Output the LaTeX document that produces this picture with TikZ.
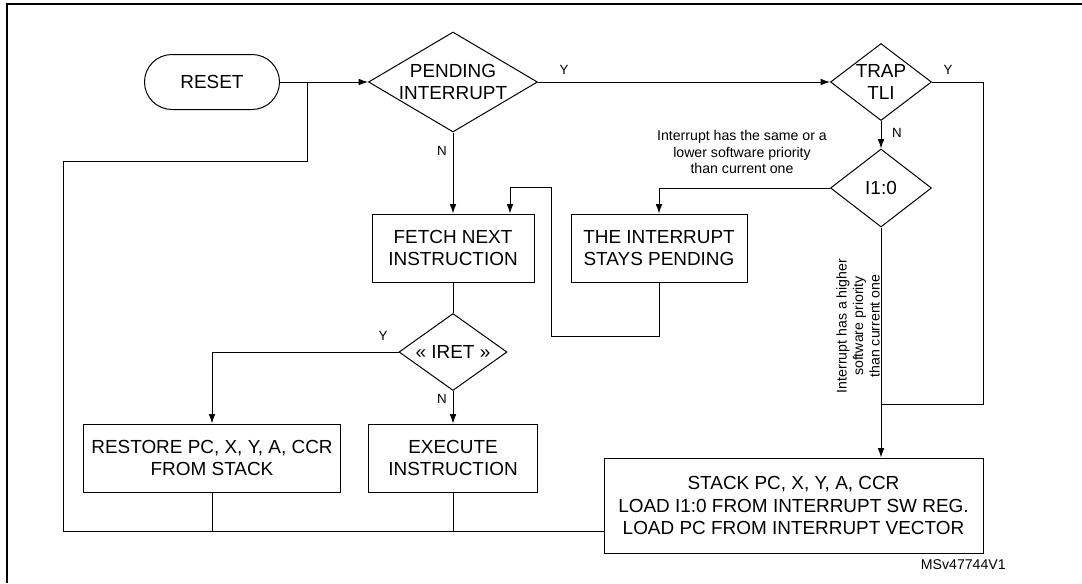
\documentclass[tikz,border=0pt]{standalone}
\usepackage{fontspec}
\setmainfont{Liberation Sans}
\usetikzlibrary{shapes.geometric, arrows.meta}
\tikzset{
  box/.style={draw, line width=0.75pt, inner sep=0pt, align=center, font=\fontsize{14.2}{16.8}\selectfont},
  decision/.style={box, diamond, inner sep=-25pt},
  tag/.style={font=\fontsize{10}{12}\selectfont, inner sep=0pt},
  note/.style={align=center, font=\fontsize{10.6}{12.4}\selectfont, inner sep=0pt},
  line/.style={line width=0.75pt},
}

\begin{document}
\begin{tikzpicture}[x=0.75pt, y=-0.75pt, >={Latex[length=7pt,width=5pt]}]
  \useasboundingbox (0,0) rectangle (1082,583);
  % frame
  \draw[line width=1.5pt] (7,583) -- (7,4) -- (1082,4);
  % blocks
  \node[box, rounded corners=20.6pt, minimum width=101.25pt, minimum height=41.25pt] (reset) at (212,82) {RESET};
  \node[decision, minimum width=126.75pt, minimum height=75pt] (pend) at (453,82) {PENDING\\INTERRUPT};
  \node[decision, minimum width=75.75pt, minimum height=57.75pt] (trap) at (881,82) {TRAP\\TLI};
  \node[decision, minimum width=75.75pt, minimum height=58.5pt] (ione) at (881,188) {I1:0};
  \node[box, minimum width=121.5pt, minimum height=51pt] (fetch) at (453,248) {FETCH NEXT\\INSTRUCTION};
  \node[box, minimum width=132pt, minimum height=51pt] (stays) at (659,248) {THE INTERRUPT\\STAYS PENDING};
  \node[decision, minimum width=81pt, minimum height=57.75pt] (iret) at (453,352) {« IRET »};
  \node[box, minimum width=192.75pt, minimum height=51pt] (restore) at (212,458) {RESTORE PC, X, Y, A, CCR\\FROM STACK};
  \node[box, minimum width=126.75pt, minimum height=51pt] (exec) at (453,458) {EXECUTE\\INSTRUCTION};
  \node[box, minimum width=284.25pt, minimum height=71.25pt] (stack) at (793.5,505.5) {STACK PC, X, Y, A, CCR\\LOAD I1:0 FROM INTERRUPT SW REG.\\LOAD PC FROM INTERRUPT VECTOR};
  % helper points
  \coordinate (join) at (307,82);
  \coordinate (loopl) at (63,161);
  \coordinate (back) at (604,531);
  \coordinate (tj) at (983,404);
  \coordinate (rb) at (551,336);
  \coordinate (rt) at (510,187);
  % connectors
  \draw[line, ->] (reset.east) -- (pend.west);
  \draw[line] (back) -| (loopl) -| (join);
  \draw[line] (restore.south) -- (restore.south |- back);
  \draw[line] (exec.south) -- (exec.south |- back);
  \draw[line, ->] (pend.east) -- (trap.west);
  \draw[line] (trap.east) -| (tj) -- (tj -| ione);
  \draw[line, ->] (trap.south) -- (ione.north);
  \draw[line, ->] (ione.south) -- (ione.south |- stack.north);
  \draw[line, ->] (ione.west) -| (stays.north);
  \draw[line, ->] (pend.south) -- (fetch.north);
  \draw[line, ->] (stays.south) |- (rb) |- (rt) -- (rt |- fetch.north);
  \draw[line] (fetch.south) -- (iret.north);
  \draw[line, ->] (iret.west) -| (restore.north);
  \draw[line, ->] (iret.south) -- (exec.north);
  % labels
  \node[tag] (pendy) at (564,70) {Y};
  \node[tag] (pendn) at (442,151) {N};
  \node[tag] (trapy) at (948,70) {Y};
  \node[tag] (trapn) at (897,133) {N};
  \node[tag] (irety) at (383,336) {Y};
  \node[tag] (iretn) at (442,399) {N};
  \node[note] (lowprio) at (742,152) {Interrupt has the same or a\\lower software priority\\than current one};
  \node[note, rotate=90] (highprio) at (858,326) {Interrupt has a higher\\software priority\\than current one};
  \node[note, anchor=east] (figref) at (1006,565) {MSv47744V1};
\end{tikzpicture}
\end{document}
